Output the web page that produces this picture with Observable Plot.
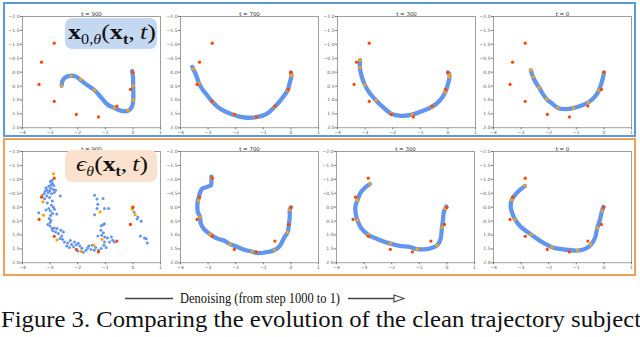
<!DOCTYPE html>
<html><head><meta charset="utf-8">
<script src="https://cdn.jsdelivr.net/npm/d3@7"></script>
<script src="https://cdn.jsdelivr.net/npm/@observablehq/plot@0.6"></script>
<style>
body{margin:0;background:#fff;}
#root{position:relative;width:640px;height:337px;overflow:hidden;background:#fff;}
.box{position:absolute;box-sizing:border-box;}
.lbl{position:absolute;border-radius:7px;}
.math{position:absolute;font-family:"Liberation Serif","DejaVu Serif",serif;white-space:nowrap;color:#111;transform-origin:0 0;}
.cap{position:absolute;font-family:"Liberation Serif",serif;white-space:nowrap;color:#111;transform-origin:0 0;line-height:1;}
</style></head><body><div id="root"></div>
<script>
// ---------- data ----------
const xTicks = [-4, -3, -2, -1, 0, 1];
const yTicks = [-2, -1.5, -1, -0.5, 0, 0.5, 1, 1.5, 2];
const titles = ["t = 900", "t = 700", "t = 300", "t = 0"];

// conditioning points (same in all panels)
const redPts = [[-2.85,-1.04],[-3.31,-0.36],[-3.40,0.44],[-2.85,1.05],[-2.05,1.52],[-1.25,1.61],[-0.58,1.22],[-0.09,0.62],[0.0,0.01]];

// top row: x0 prediction
const blueTop900 = [[-2.58,0.49],[-2.55,0.31],[-2.42,0.17],[-2.24,0.13],[-2.06,0.16],[-1.90,0.28],[-1.70,0.43],[-1.39,0.65],[-1.15,0.91],[-0.91,1.17],[-0.67,1.29],[-0.42,1.39],[-0.18,1.39],[-0.04,1.25],[0.01,1.03],[0.01,0.49],[0.0,0.13],[-0.03,-0.04]];
const orangeTop900 = [[-2.58,0.49],[-2.24,0.14],[-1.90,0.26],[-1.39,0.65],[-0.67,1.29],[-0.18,1.37],[0.01,1.0],[0.01,0.49],[0.01,0.03]];
const blueTop700 = [[-3.57,-0.19],[-3.54,-0.11],[-3.45,0.07],[-3.33,0.40],[-3.21,0.61],[-3.02,0.85],[-2.84,1.07],[-2.54,1.33],[-2.07,1.54],[-1.68,1.63],[-1.26,1.62],[-0.89,1.51],[-0.59,1.25],[-0.34,0.97],[-0.12,0.65],[-0.04,0.37],[0.02,0.13],[0.0,0.01]];
const orangeTop700 = [[-3.54,-0.11],[-3.33,0.40],[-2.84,1.07],[-2.07,1.54],[-1.26,1.62],[-0.59,1.25],[-0.12,0.65],[0.02,0.13],[0.02,0.06]];
const blueTop300 = [[-3.18,-0.43],[-3.19,-0.17],[-3.13,0.13],[-3.01,0.46],[-2.85,0.73],[-2.61,1.01],[-2.36,1.25],[-2.06,1.49],[-1.70,1.57],[-1.30,1.53],[-0.91,1.39],[-0.58,1.25],[-0.30,1.03],[-0.10,0.73],[0.0,0.43],[0.06,0.17],[0.04,0.05],[0.0,0.01]];
const orangeTop300 = [[-3.18,-0.43],[-3.19,-0.17],[-3.01,0.46],[-2.61,1.01],[-2.06,1.49],[-1.30,1.53],[-0.58,1.25],[-0.10,0.73],[0.06,0.17],[0.04,0.08]];
const blueTop0 = [[-2.65,-0.07],[-2.57,0.17],[-2.47,0.37],[-2.35,0.55],[-2.21,0.79],[-2.07,0.97],[-1.85,1.15],[-1.67,1.29],[-1.37,1.33],[-1.11,1.29],[-0.84,1.21],[-0.57,1.09],[-0.30,0.85],[-0.18,0.65],[-0.08,0.37],[-0.02,0.13],[0.0,0.01]];
const orangeTop0 = [[-2.65,-0.07],[-2.57,0.17],[-2.35,0.55],[-2.07,0.97],[-1.67,1.29],[-1.11,1.29],[-0.57,1.09],[-0.18,0.65],[0.0,0.03]];

// bottom row: epsilon prediction
const blueBot900 = [[-2.99,-0.92],[-2.92,-0.86],[-2.97,-0.80],[-2.87,-0.78],[-3.15,-0.70],[-2.88,-0.63],[-2.80,-0.61],[-3.01,-0.58],[-3.07,-0.53],[-2.95,-0.48],[-2.85,-0.53],[-3.21,-0.49],[-3.28,-0.43],[-3.12,-0.40],[-2.63,-0.40],[-3.20,-0.30],[-2.92,-0.22],[-2.95,-0.07],[-2.88,0.0],[-2.84,0.08],[-2.99,0.14],[-2.91,0.23],[-2.76,0.25],[-3.41,0.20],[-3.03,0.41],[-2.97,0.48],[-3.0,0.55],[-2.93,0.77],[-2.85,0.75],[-2.75,0.77],[-2.61,0.83],[-2.52,0.89],[-2.80,0.89],[-2.58,1.04],[-2.64,1.13],[-2.48,1.25],[-2.36,1.29],[-2.27,1.20],[-2.22,1.34],[-2.12,1.25],[-2.05,1.35],[-1.98,1.30],[-1.92,1.40],[-2.0,1.58],[-1.70,1.55],[-1.64,1.47],[-1.52,1.52],[-1.48,1.37],[-3.05,-0.75],[-3.10,-0.62],[-3.18,-0.58],[-2.98,-0.68],[-2.93,-0.97],[-3.02,-0.35],[-3.10,-0.15],[-3.05,0.05],[-3.15,0.10],[-2.98,0.30],[-3.08,0.62],[-3.0,0.68],[-2.90,0.85],[-2.70,0.95],[-2.55,1.15],[-2.40,1.40],[-2.30,1.45],[-2.15,1.42],[-1.85,1.48],[-1.60,1.40],[-1.35,1.45],[-1.40,1.55],[-1.80,1.62],
[-1.39,-0.43],[-1.30,-0.29],[-1.08,-0.31],[-1.27,-0.10],[-1.30,0.05],[-1.03,0.05],[-0.88,0.05],[-1.39,0.27],[-1.08,0.63],[-1.15,0.67],[-1.03,0.60],[-1.16,0.83],[-1.07,0.92],[-1.13,1.01],[-1.27,1.04],[-1.02,1.07],[-0.92,1.11],[-0.78,1.07],[-0.73,1.19],[-0.67,1.25],[-0.85,1.25],[-1.03,1.25],[-1.05,1.37],[-0.97,1.45],[-1.15,1.49],[-1.25,1.55],
[0.04,0.17],[0.18,0.35],[0.15,0.43],[0.30,0.51],[0.27,1.04],[0.42,1.11],[0.48,1.14],[0.52,1.29]];
const orangeBot900 = [[-2.88,-1.20],[-3.30,-0.39],[-3.26,-0.19],[-3.24,0.29],[-2.75,1.18],[-1.88,1.59],[-1.42,1.37],[-1.19,0.17],[-1.12,1.16],[0.0,-0.01],[-0.03,0.07],[0.08,0.27]];
const blueBot700 = [[-2.88,-1.10],[-2.88,-0.95],[-2.90,-0.79],[-3.09,-0.71],[-3.21,-0.67],[-3.29,-0.53],[-3.33,-0.38],[-3.37,-0.23],[-3.39,-0.05],[-3.37,0.19],[-3.29,0.35],[-3.27,0.57],[-3.15,0.79],[-2.93,0.97],[-2.66,1.13],[-2.41,1.21],[-2.21,1.33],[-1.99,1.41],[-1.74,1.51],[-1.41,1.60],[-1.20,1.65],[-0.95,1.63],[-0.59,1.54],[-0.40,1.39],[-0.24,1.09],[-0.12,0.91],[-0.07,0.61],[-0.04,0.31],[-0.04,0.10],[0.0,0.01]];
const orangeBot700 = [[-2.88,-1.02],[-3.35,-0.23],[-3.29,0.35],[-2.93,0.97],[-2.21,1.33],[-1.41,1.60],[-0.59,1.54],[-0.12,0.91],[-0.04,0.10]];
const blueBot300 = [[-2.79,-0.83],[-3.0,-0.67],[-3.14,-0.50],[-3.24,-0.25],[-3.32,0.01],[-3.30,0.25],[-3.24,0.47],[-3.12,0.73],[-2.84,1.0],[-2.51,1.15],[-2.05,1.31],[-1.72,1.39],[-1.36,1.43],[-1.08,1.51],[-0.75,1.51],[-0.51,1.45],[-0.35,1.37],[-0.23,1.15],[-0.18,0.73],[-0.14,0.43],[-0.11,0.17],[-0.06,0.05],[-0.02,-0.02]];
const orangeBot300 = [[-2.79,-0.83],[-3.24,-0.25],[-3.24,0.47],[-2.84,1.0],[-2.05,1.31],[-1.08,1.51],[-0.35,1.37],[-0.18,0.73],[-0.06,0.05]];
const blueBot0 = [[-2.86,-0.76],[-3.02,-0.64],[-3.20,-0.46],[-3.34,-0.26],[-3.38,-0.04],[-3.32,0.22],[-3.22,0.44],[-3.02,0.70],[-2.63,0.99],[-2.30,1.22],[-1.88,1.44],[-1.46,1.52],[-0.96,1.56],[-0.68,1.50],[-0.47,1.35],[-0.32,1.10],[-0.24,0.75],[-0.14,0.44],[-0.07,0.14],[-0.02,-0.01]];
const orangeBot0 = [[-2.86,-0.76],[-3.34,-0.26],[-3.22,0.44],[-2.63,0.99],[-1.88,1.44],[-0.96,1.56],[-0.47,1.35],[-0.24,0.75],[-0.07,0.14]];

// ---------- layout ----------
const root = document.getElementById("root");
const BLUE = "#6495ed", ORANGE = "#ffa500", RED = "#ff4500";
const ML = 20, MR = 5, MT = 14, MB = 10, IW = 138, IH = 111.3;

const panels = [
  {t: titles[0], fx: 21.7, fy: 15.7, blue: blueTop900, orange: orangeTop900, scatter: false},
  {t: titles[1], fx: 180.0, fy: 15.7, blue: blueTop700, orange: orangeTop700, scatter: false},
  {t: titles[2], fx: 336.7, fy: 15.7, blue: blueTop300, orange: orangeTop300, scatter: false},
  {t: titles[3], fx: 493.3, fy: 15.7, blue: blueTop0, orange: orangeTop0, scatter: false},
  {t: titles[0], fx: 21.7, fy: 150.5, blue: blueBot900, orange: orangeBot900, scatter: true},
  {t: titles[1], fx: 180.0, fy: 150.5, blue: blueBot700, orange: orangeBot700, scatter: false},
  {t: titles[2], fx: 335.7, fy: 150.5, blue: blueBot300, orange: orangeBot300, scatter: false},
  {t: titles[3], fx: 492.7, fy: 150.5, blue: blueBot0, orange: orangeBot0, scatter: false}
];

function box(l, t, w, h, css) {
  const d = document.createElement("div");
  d.className = "box";
  Object.assign(d.style, {left: l + "px", top: t + "px", width: w + "px", height: h + "px"}, css);
  root.appendChild(d);
  return d;
}
// outer group frames
box(3, 2, 633, 135, {border: "2px solid #5b9bd5"});
box(3, 138, 633, 138, {border: "2px solid #f0a05a"});

const fmtY = d => (d < 0 ? "\u2212" : "") + Math.abs(d).toFixed(1);
const fmtX = d => (d < 0 ? "\u2212" : "") + Math.abs(d);

for (const p of panels) {
  const marks = [
    Plot.frame({stroke: "#777", strokeWidth: 0.7}),
    Plot.axisX({ticks: xTicks, tickFormat: fmtX, tickSize: 2, tickPadding: 1, stroke: "#777", fill: "#555"}),
    Plot.axisY({ticks: yTicks, tickFormat: fmtY, tickSize: 2, tickPadding: 1, stroke: "#777", fill: "#555"}),
    Plot.text([p.t], {text: d => d, frameAnchor: "top", dy: -4, fontSize: 5.5, fill: "#333"})
  ];
  if (p.scatter) {
    marks.push(Plot.dot(p.blue, {x: d => d[0], y: d => d[1], r: 1.5, fill: BLUE}));
  } else {
    marks.push(Plot.line(p.blue, {x: d => d[0], y: d => d[1], stroke: BLUE, strokeWidth: 4.3, curve: "catmull-rom", strokeLinecap: "round", strokeLinejoin: "round"}));
  }
  marks.push(Plot.dot(p.orange, {x: d => d[0], y: d => d[1], r: 1.6, fill: ORANGE}));
  marks.push(Plot.dot(redPts, {x: d => d[0], y: d => d[1], r: 1.6, fill: RED}));
  const svg = Plot.plot({
    width: ML + IW + MR, height: MT + IH + MB,
    marginLeft: ML, marginRight: MR, marginTop: MT, marginBottom: MB,
    x: {domain: [-4, 1]},
    y: {domain: [-2, 2], reverse: true},
    style: {fontSize: "4.5px", fontFamily: "DejaVu Sans, sans-serif", background: "transparent", overflow: "visible"},
    marks
  });
  svg.style.position = "absolute";
  svg.style.left = (p.fx - ML) + "px";
  svg.style.top = (p.fy - MT) + "px";
  svg.style.maxWidth = "none";
  root.appendChild(svg);
}

// label boxes
const l1 = document.createElement("div"); l1.className = "lbl";
Object.assign(l1.style, {left: "65px", top: "18px", width: "92px", height: "31px", background: "#c5d8f2"});
root.appendChild(l1);
const l2 = document.createElement("div"); l2.className = "lbl";
Object.assign(l2.style, {left: "65px", top: "150px", width: "92px", height: "32px", background: "#fbe2cf"});
root.appendChild(l2);

function mathText(html, left, top, size, targetW) {
  const s = document.createElement("div");
  s.className = "math";
  s.style.left = left + "px"; s.style.top = top + "px"; s.style.fontSize = size + "px";
  s.innerHTML = html;
  root.appendChild(s);
  const w = s.getBoundingClientRect().width;
  if (targetW) s.style.transform = `scaleX(${targetW / w})`;
  return s;
}
mathText('<b>x</b><sub style="font-size:0.62em;vertical-align:-0.35em">0,<i>θ</i></sub>(<b>x</b><sub style="font-size:0.62em;vertical-align:-0.35em"><b>t</b></sub>,&thinsp;<i>t</i>)', 68, 19, 22, 88);
mathText('<i>ϵ</i><sub style="font-size:0.62em;vertical-align:-0.35em"><i>θ</i></sub>(<b>x</b><sub style="font-size:0.62em;vertical-align:-0.35em"><b>t</b></sub>,&thinsp;<i>t</i>)', 76, 151, 22, 72);

// captions (line-height 1, top = baseline - 0.8375em)
function capText(txt, left, baseline, size, targetW) {
  const s = document.createElement("div");
  s.className = "cap";
  s.style.left = left + "px"; s.style.top = (baseline - 0.8375 * size) + "px"; s.style.fontSize = size + "px";
  s.textContent = txt;
  root.appendChild(s);
  const w = s.getBoundingClientRect().width;
  s.style.transform = `scaleX(${targetW / w})`;
}
capText("Denoising (from step 1000 to 1)", 180, 303.5, 15, 160);
capText("Figure 3. Comparing the evolution of the clean trajectory subject", 1, 327.5, 24, 640);

// arrow decorations
const ns = "http://www.w3.org/2000/svg";
const deco = document.createElementNS(ns, "svg");
deco.setAttribute("width", 640); deco.setAttribute("height", 337);
deco.style.position = "absolute"; deco.style.left = "0"; deco.style.top = "0"; deco.style.pointerEvents = "none";
deco.innerHTML = '<line x1="125" y1="298.5" x2="173" y2="298.5" stroke="#444" stroke-width="1.3"/>' +
  '<line x1="348" y1="298.5" x2="394" y2="298.5" stroke="#444" stroke-width="1.3"/>' +
  '<path d="M394,295 L404,298.5 L394,302 Z" fill="#fff" stroke="#444" stroke-width="1.1"/>';
root.appendChild(deco);
</script></body></html>
